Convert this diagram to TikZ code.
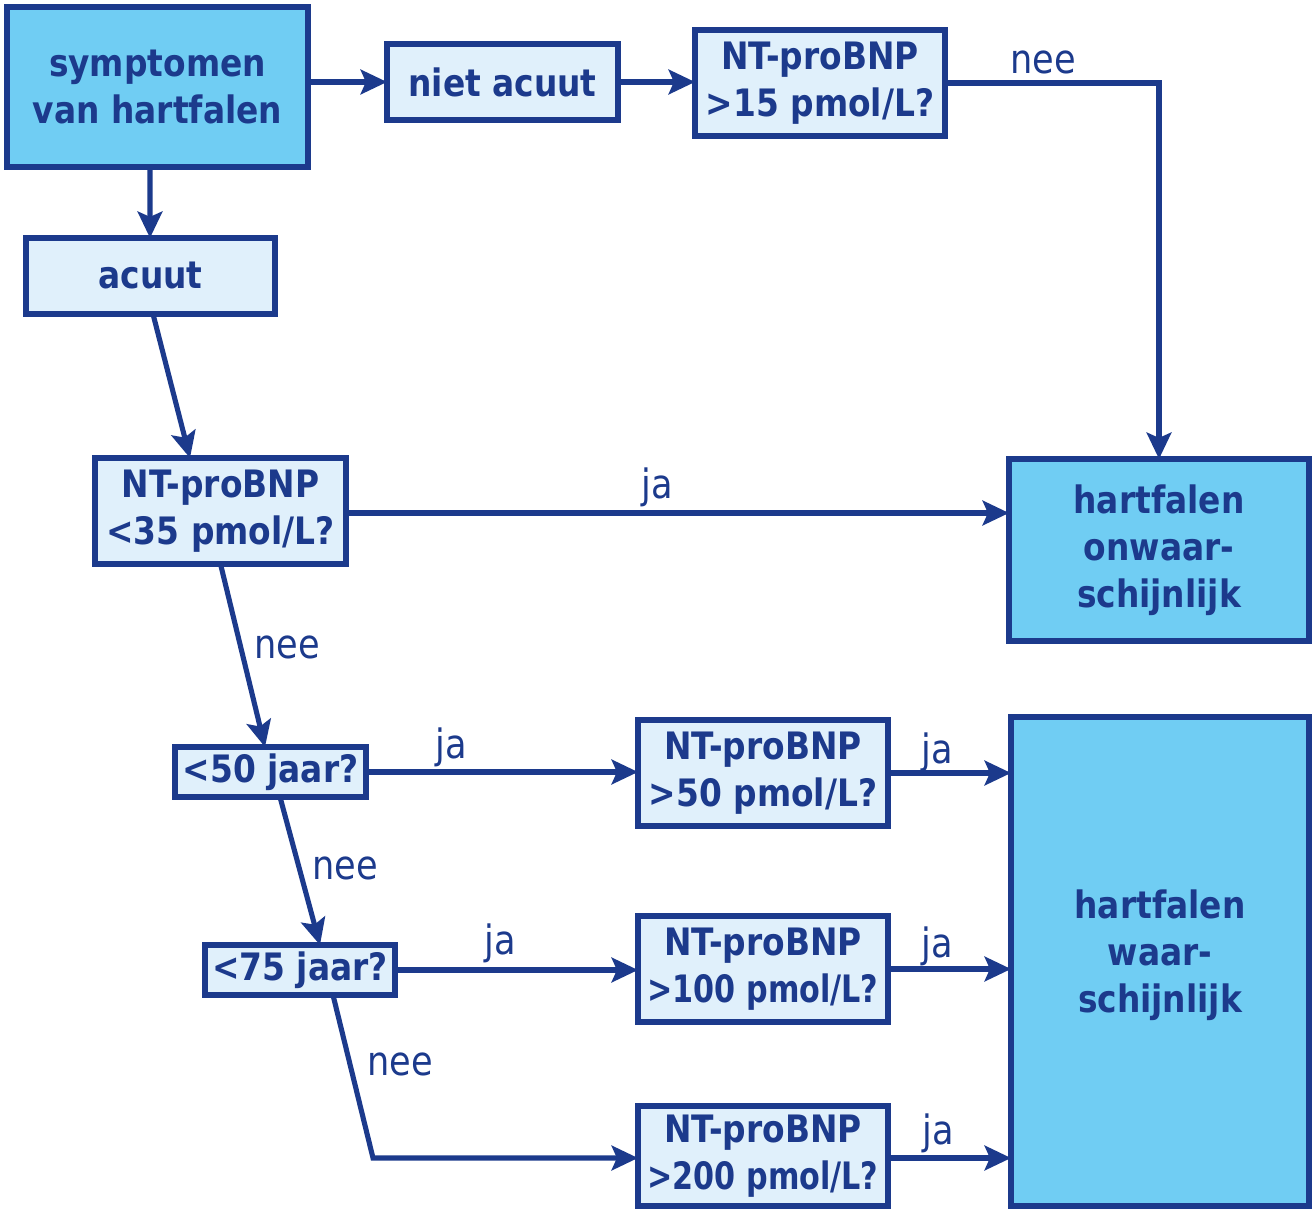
\documentclass[tikz,border=0pt]{standalone}
\usepackage{fontspec}
\setmainfont{DejaVu Sans}[FakeStretch=0.87]
\usepackage{tikz}
\usetikzlibrary{arrows.meta,calc,positioning}
\definecolor{donker}{HTML}{1C3A8C}
\definecolor{licht}{HTML}{E0F0FB}
\definecolor{midden}{HTML}{70CDF3}
\newcommand{\smal}[1]{{\addfontfeatures{FakeStretch=0.8}#1}}

\begin{document}
\begin{tikzpicture}[x=0.02cm, y=-0.02cm,
    doos/.style={draw=donker, line width=3.2pt, fill=licht, text=donker,
        font=\bfseries\fontsize{21.5}{26.7}\selectfont, align=center,
        inner sep=0pt, outer sep=0pt},
    eind/.style={doos, fill=midden},
    pijl/.style={draw=donker, line width=2.9pt,
        -{Stealth[length=15pt, width=14pt, inset=3pt]}},
    tekst/.style={text=donker, font=\fontsize{23}{27}\selectfont, inner sep=0pt}]
    \useasboundingbox (0,0) rectangle (1312,1209);
    %% Boxes
    \node[eind, minimum width=6.02cm, minimum height=3.2cm] (symp) at (157.5,87)
        {symptomen\\van hartfalen};
    \node[doos, minimum width=4.62cm, minimum height=1.52cm] (niet) at (502.5,82)
        {niet acuut};
    \node[doos, minimum width=5cm, minimum height=2.12cm] (nt15) at (820,83)
        {NT-proBNP\\>15 pmol/L?};
    \node[doos, minimum width=4.98cm, minimum height=1.52cm] (acuut) at (150.5,276)
        {acuut};
    \node[doos, minimum width=5.02cm, minimum height=2.12cm] (nt35) at (220.5,511)
        {NT-proBNP\\<35 pmol/L?};
    \node[eind, minimum width=6cm, minimum height=3.64cm] (onwaar) at (1159,550)
        {hartfalen\\onwaar-\\schijnlijk};
    \node[doos, minimum width=3.82cm, minimum height=1cm] (jong) at (270.5,772)
        {<50 jaar?};
    \node[doos, minimum width=5cm, minimum height=2.12cm] (nt50) at (763,773)
        {NT-proBNP\\>50 pmol/L?};
    \node[doos, minimum width=3.8cm, minimum height=1cm] (midd) at (300,970)
        {<75 jaar?};
    \node[doos, minimum width=5cm, minimum height=2.12cm] (nt100) at (763,969)
        {NT-proBNP\\\smal{>100 pmol/L?}};
    \node[doos, minimum width=5cm, minimum height=2cm] (nt200) at (763,1156)
        {NT-proBNP\\\smal{>200 pmol/L?}};
    \node[eind, minimum width=5.96cm, minimum height=9.78cm] (waar) at (1160,961.5)
        {hartfalen\\waar-\\schijnlijk\\[-0.54cm]};
    \coordinate (knik) at (373,1158);
    %% Connectors
    \draw[pijl] (symp.east |- niet.west) -- (niet.west);
    \draw[pijl] (niet.east) -- (niet.east -| nt15.west);
    \draw[pijl] (nt15.east) -| (onwaar.north);
    \draw[pijl] ([xshift=-0.15cm]symp.south) -- ([xshift=-0.01cm]acuut.north);
    \draw[pijl] ([xshift=0.05cm]acuut.south) -- ([xshift=-0.61cm]nt35.north);
    \draw[pijl] ([yshift=-0.04cm]nt35.east) -- ([yshift=-0.04cm]nt35.east -| onwaar.west);
    \draw[pijl] (nt35.south) -- ([xshift=-0.11cm]jong.north);
    \draw[pijl] (jong.east) -- (jong.east -| nt50.west);
    \draw[pijl] ([xshift=0.19cm]jong.south) -- ([xshift=0.4cm]midd.north);
    \draw[pijl] (midd.east) -- (midd.east -| nt100.west);
    \draw[pijl] ([xshift=0.66cm]midd.south) -- (knik) -- (knik -| nt200.west);
    \draw[pijl] (nt50.east) -- (nt50.east -| waar.west);
    \draw[pijl] (nt100.east) -- (nt100.east -| waar.west);
    \draw[pijl] (knik -| nt200.east) -- (knik -| waar.west);
    %% Labels
    \node[tekst] (l1) at (1043,62) {nee};
    \node[tekst] (l2) at (657,487) {ja};
    \node[tekst] (l3) at (287,647) {nee};
    \node[tekst] (l4) at (451,747) {ja};
    \node[tekst] (l5) at (345,868) {nee};
    \node[tekst] (l6) at (500,943) {ja};
    \node[tekst] (l7) at (400,1064) {nee};
    \node[tekst] (l8) at (937,752) {ja};
    \node[tekst] (l9) at (937,946) {ja};
    \node[tekst] (l10) at (938,1133) {ja};
\end{tikzpicture}
\end{document}
